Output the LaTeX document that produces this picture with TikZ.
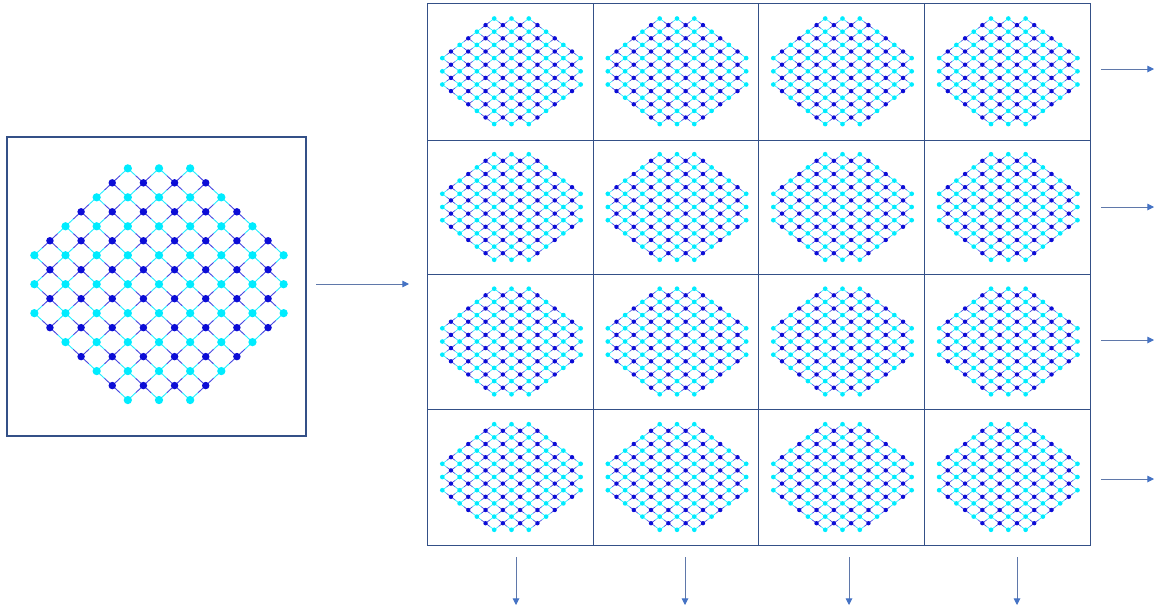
\documentclass[tikz,border=0pt]{standalone}
\usetikzlibrary{arrows.meta,calc}
\definecolor{cy}{RGB}{0,236,255}
\definecolor{db}{RGB}{12,12,214}
\definecolor{framec}{RGB}{52,80,135}
\definecolor{arrtip}{RGB}{68,114,196}
\definecolor{arrline}{RGB}{95,120,170}
\tikzset{
  frameline/.style={draw=framec,line width=0.6pt},
  flow/.style={draw=arrline,line width=0.7pt,-{Triangle[length=5pt,width=5pt,color=arrtip]}},
  cyedge/.style={draw=cy!85!white},
  dbedge/.style={draw=db!75!white},
}
% #1 prefix, #2 cx, #3 cy, #4 h, #5 v, #6 cyan dot radius, #7 edge width, #8 blue dot radius
\newcommand\mylattice[8]{%
  \foreach \r in {0,...,16}{\foreach \xi in {0,...,16}{%
    \pgfmathtruncatemacro\ok{and(mod(\r+\xi,2)==0, abs(\xi-8)<=min(\r+2,18-\r,8))}%
    \ifnum\ok=1 \coordinate (#1-\r-\xi) at ({#2+(\xi-8)*#4},{#3+(\r-8)*#5}); \fi
  }}%
  \foreach \r in {0,...,15}{\foreach \xi in {0,...,16}{%
    \pgfmathtruncatemacro\ok{and(mod(\r+\xi,2)==0, abs(\xi-8)<=min(\r+2,18-\r,8))}%
    \ifnum\ok=1
      \pgfmathtruncatemacro\rn{\r+1}%
      \pgfmathtruncatemacro\rpar{mod(\r,2)}%
      \foreach \d in {-1,1}{%
        \pgfmathtruncatemacro\nx{\xi+\d}%
        \pgfmathtruncatemacro\okn{and(and(\nx>=0,\nx<=16), abs(\nx-8)<=min(\r+3,17-\r,8))}%
        \ifnum\okn=1
          \ifnum\rpar=0
            \draw[cyedge,line width=#7] (#1-\r-\xi) -- ($(#1-\r-\xi)!0.5!(#1-\rn-\nx)$);
            \draw[dbedge,line width=#7] (#1-\rn-\nx) -- ($(#1-\r-\xi)!0.5!(#1-\rn-\nx)$);
          \else
            \draw[dbedge,line width=#7] (#1-\r-\xi) -- ($(#1-\r-\xi)!0.5!(#1-\rn-\nx)$);
            \draw[cyedge,line width=#7] (#1-\rn-\nx) -- ($(#1-\r-\xi)!0.5!(#1-\rn-\nx)$);
          \fi
        \fi
      }%
    \fi
  }}%
  \foreach \r in {0,...,16}{\foreach \xi in {0,...,16}{%
    \pgfmathtruncatemacro\ok{and(mod(\r+\xi,2)==0, abs(\xi-8)<=min(\r+2,18-\r,8))}%
    \ifnum\ok=1
      \pgfmathtruncatemacro\rpar{mod(\r,2)}%
      \ifnum\rpar=0 \fill[cy] (#1-\r-\xi) circle (#6); \else \fill[db] (#1-\r-\xi) circle (#8); \fi
    \fi
  }}%
}
\begin{document}
\begin{tikzpicture}[x=0.75pt,y=-0.75pt]
\useasboundingbox (0,0) rectangle (1154,607);
% left panel
\draw[frameline,line width=0.9pt] (7,137) rectangle (306,436);
\mylattice{big}{159}{284.2}{15.58}{14.48}{3.1pt}{0.7pt}{2.8pt}
% arrow to grid
\coordinate (aS) at (316,284);
\coordinate (aE) at (409,284);
\draw[flow] (aS) -- (aE);
% grid
\draw[frameline] (427,3) rectangle (1090,545);
\foreach \gx in {593,758,924} \draw[frameline] (\gx,3) -- (\gx,545);
\foreach \gy in {140,274,409} \draw[frameline] (427,\gy) -- (1090,\gy);
\foreach \cx [count=\i] in {511.5,677,842.5,1008.3}{
  \foreach \cyy [count=\j] in {71.3,207,341.5,477}{
    \mylattice{s\i\j}{\cx}{\cyy}{8.65}{6.6}{1.75pt}{0.5pt}{1.65pt}
  }
}
% right arrows
\foreach \ay [count=\k] in {69,207,340,479}{
  \coordinate (rS\k) at (1101,\ay);
  \coordinate (rE\k) at (1154,\ay);
  \draw[flow] (rS\k) -- (rE\k);
}
% down arrows
\foreach \ax [count=\k] in {516,685,849,1017}{
  \coordinate (dS\k) at (\ax,557);
  \coordinate (dE\k) at (\ax,605);
  \draw[flow] (dS\k) -- (dE\k);
}
\end{tikzpicture}
\end{document}
